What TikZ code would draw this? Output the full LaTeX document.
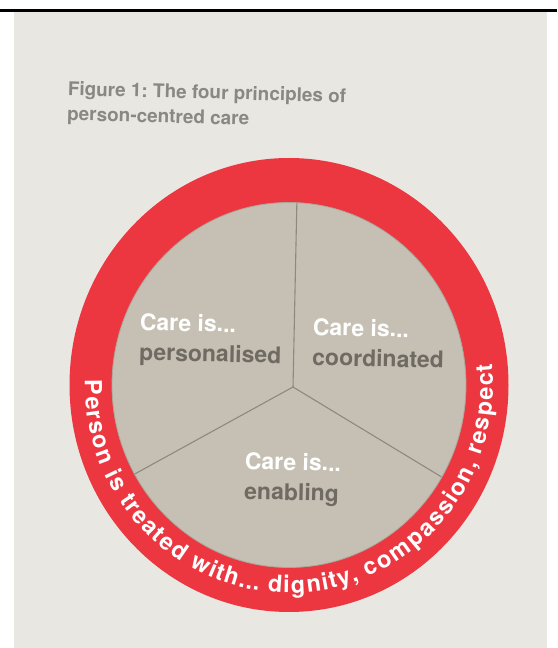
\documentclass[tikz,border=0pt]{standalone}
\usepackage{fontspec}
\setmainfont{TeX Gyre Heros}
\usetikzlibrary{decorations.text}

\definecolor{pagebg}{HTML}{E9E7E2}
\definecolor{ringred}{HTML}{EC3741}
\definecolor{discfill}{HTML}{C5C0B3}
\definecolor{discedge}{HTML}{ABA699}
\definecolor{labeldark}{HTML}{6F6B62}
\definecolor{divider}{HTML}{8D897F}
\definecolor{titlegrey}{HTML}{8B8882}

\newcommand\ringfont{\bfseries\fontsize{23.5}{28}\selectfont}

\tikzset{
  principle/.style={anchor=north west, inner sep=0pt, align=left,
    text=labeldark, rotate=-1.2,
    font=\bfseries\fontsize{23}{30}\selectfont},
  spoke/.style={draw=divider, line width=1.1pt},
}

\begin{document}
\frenchspacing
\begin{tikzpicture}[x=1pt,y=1pt]
  \useasboundingbox (0,0) rectangle (557,648);
  % sheet and rule
  \fill[white] (0,0) rectangle (557,648);
  \fill[pagebg] (14,0) rectangle (547,636);
  \fill[black] (0,636) rectangle (557,639);

  % heading
  \node[anchor=north west, inner sep=0pt, align=left, rotate=-1.5,
        text=titlegrey, font=\bfseries\fontsize{18.9}{25}\selectfont]
    (title) at (68,567) {Figure 1: The four principles of\\person-centred care};

  % ring and disc
  \coordinate (ringC) at (289,263);
  \fill[ringred] (ringC) ellipse [x radius=219.5, y radius=227];
  \fill[discfill] (ringC) ellipse [x radius=177, y radius=182.5];
  \draw[discedge, line width=0.8pt] (ringC) ellipse [x radius=177, y radius=182.5];

  % three spokes meeting at the hub
  \coordinate (hub) at (293,261);
  \begin{scope}
    \clip (ringC) ellipse [x radius=176.5, y radius=182];
    \draw[spoke] (hub) -- ++(88.8:260);
    \draw[spoke] (hub) -- ++(208.8:260);
    \draw[spoke] (hub) -- ++(328.8:260);
  \end{scope}

  % the three principles
  \node[principle] (lblPers) at (140,335)
    {{\color{white}Care is...}\\personalised};
  \node[principle] (lblCoord) at (313,330)
    {{\color{white}Care is...}\\coordinated};
  \node[principle] (lblEnab) at (245,196)
    {{\color{white}Care is...}\\enabling};

  % lettering round the ring, spread to fill the arc
  \path[decorate, decoration={text effects along path,
        text={Person is treated with... dignity, compassion, respect},
        text effects/.cd, text along path, fit text to path,
        characters={text=white, font=\ringfont}}]
    (ringC) ++(178.5:204 and 208)
    arc[start angle=178.5, end angle=366, x radius=204, y radius=208];
\end{tikzpicture}
\end{document}
